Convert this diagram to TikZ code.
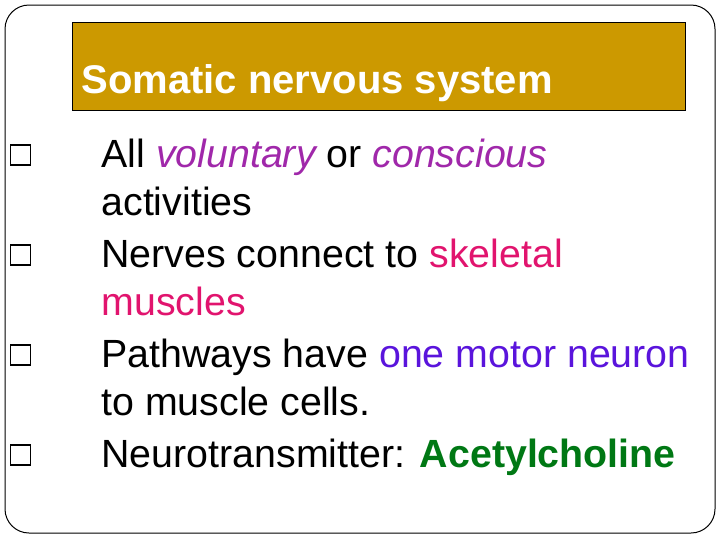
\documentclass[tikz,border=0pt]{standalone}
\usepackage{fontspec}
\setmainfont{Liberation Sans}
\definecolor{titlegold}{RGB}{204,153,0}
\definecolor{volpurple}{RGB}{160,40,170}
\definecolor{skelpink}{RGB}{225,20,110}
\definecolor{motorblue}{RGB}{90,20,220}
\definecolor{achgreen}{RGB}{0,120,20}
\tikzset{every picture/.style={line width=0.75pt}}
\tikzset{
  bullettext/.style={anchor=base west,inner sep=0.75pt,font=\fontsize{29.5}{35}\selectfont},
  bulletbox/.style={draw,line width=1.3pt,minimum width=15pt,minimum height=15pt,inner sep=0pt}
}
\begin{document}
\begin{tikzpicture}[x=0.75pt,y=0.75pt,yscale=-1,xscale=1]
	\useasboundingbox (0,0) rectangle (720,540);
	
	%Rounded Rect: slide frame
	\draw [rounded corners=18] (5,5) rectangle (715,533) ;
	%Shape: Rectangle title bar
	\draw [fill=titlegold] (72,22) rectangle (685,110) ;
	% Text Node
	\node (title) at (80,93) [anchor=base west,inner sep=0.75pt,text=white,font=\fontsize{30}{35}\selectfont\bfseries] {Somatic nervous system};
	
	% bullet boxes
	\foreach \y/\n in {155/b1,255/b2,355/b3,455/b4}
		\node (\n) [bulletbox] at (20.5,\y) {};
	
	% Text Nodes
	\node (t1) at (100,167) [bullettext] {All \textcolor{volpurple}{\itshape voluntary} or \textcolor{volpurple}{\itshape conscious}};
	\node (t1b) at (100,215) [bullettext] {activities};
	\node (t2) at (100,267) [bullettext] {Nerves connect to \textcolor{skelpink}{skeletal}};
	\node (t2b) at (100,315) [bullettext] {\textcolor{skelpink}{muscles}};
	\node (t3) at (100,367) [bullettext] {Pathways have \textcolor{motorblue}{one motor neuron}};
	\node (t3b) at (100,415) [bullettext] {to muscle cells.};
	\node (t4) at (100,467) [bullettext] {Neurotransmitter: \textcolor{achgreen}{\bfseries Acetylcholine}};
	
\end{tikzpicture}
\end{document}
